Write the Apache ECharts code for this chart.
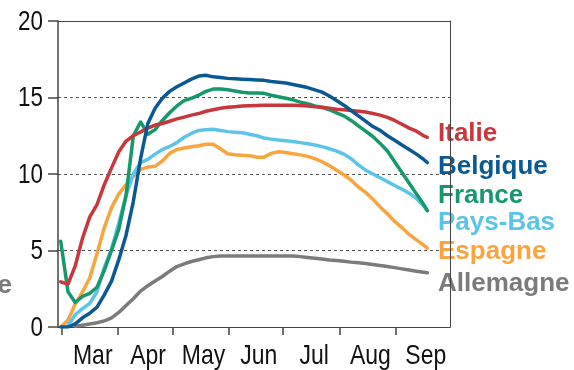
<!DOCTYPE html>
<html>
<head>
<meta charset="utf-8">
<script src="https://cdn.jsdelivr.net/npm/echarts@6/dist/echarts.min.js"></script>
<style>
html,body{margin:0;padding:0;background:#fff;}
#chart{width:574px;height:370px;}
</style>
</head>
<body>
<div id="chart"></div>
<script>
const sampleDates = ['02-29','03-04','03-08','03-12','03-16','03-20','03-24','03-28','04-01','04-05',
  '04-09','04-13','04-17','04-21','04-25','04-29','05-03','05-07','05-11','05-15',
  '05-19','05-23','05-27','05-31','06-04','06-08','06-12','06-16','06-20','06-24',
  '06-28','07-02','07-06','07-10','07-14','07-18','07-22','07-26','07-30','08-03',
  '08-07','08-11','08-15','08-19','08-23','08-27','08-31','09-04','09-08','09-12',
  '09-16','09-18'];

const italie = [2.95,2.8,4.0,5.8,7.2,8.0,9.3,10.4,11.45,12.15,
  12.5,12.75,13.0,13.2,13.3,13.45,13.6,13.72,13.85,13.95,
  14.1,14.2,14.3,14.36,14.4,14.44,14.46,14.48,14.5,14.5,
  14.5,14.5,14.5,14.48,14.45,14.4,14.36,14.3,14.23,14.2,
  14.15,14.1,14.05,13.95,13.85,13.7,13.5,13.25,13.0,12.8,
  12.5,12.4];

const belgique = [0,0,0.2,0.6,0.9,1.3,2.1,3.0,4.4,6.0,
  8.2,11.0,13.3,14.3,14.95,15.4,15.7,15.95,16.2,16.4,
  16.45,16.35,16.3,16.25,16.22,16.2,16.18,16.15,16.12,16.05,
  16.0,15.95,15.85,15.75,15.65,15.5,15.35,15.1,14.8,14.5,
  14.15,13.8,13.45,13.1,12.85,12.5,12.2,11.9,11.6,11.3,
  10.95,10.75];

const france = [5.6,2.3,1.6,2.0,2.2,2.6,3.7,5.0,6.4,8.6,
  12.5,13.4,12.6,12.9,13.5,14.0,14.45,14.8,14.95,15.15,
  15.4,15.55,15.55,15.5,15.42,15.35,15.3,15.3,15.27,15.15,
  15.05,14.95,14.85,14.7,14.6,14.45,14.35,14.2,14.0,13.8,
  13.5,13.15,12.8,12.45,12.0,11.5,10.8,10.1,9.4,8.7,
  8.0,7.6];

const paysBas = [null,0.1,0.8,1.2,1.55,2.3,3.9,5.1,6.8,8.6,
  10.0,10.75,10.95,11.3,11.6,11.8,12.05,12.4,12.65,12.85,
  12.9,12.92,12.85,12.77,12.73,12.7,12.6,12.5,12.35,12.28,
  12.22,12.18,12.12,12.05,11.98,11.9,11.79,11.65,11.5,11.3,
  11.0,10.6,10.25,10.0,9.75,9.5,9.25,9.0,8.75,8.4,
  7.9,7.6];

const espagne = [0,0.45,1.5,2.3,3.2,4.8,6.5,7.8,8.7,9.3,
  9.85,10.3,10.45,10.5,10.85,11.35,11.6,11.7,11.78,11.85,
  11.95,11.95,11.65,11.32,11.26,11.22,11.2,11.1,11.1,11.35,
  11.45,11.4,11.33,11.25,11.15,11.0,10.8,10.55,10.25,9.95,
  9.6,9.15,8.8,8.35,7.85,7.4,6.9,6.5,6.05,5.7,
  5.35,5.15];

const allemagne = [null,null,0.05,0.12,0.2,0.28,0.4,0.6,0.95,1.4,
  1.85,2.35,2.7,3.0,3.3,3.65,3.95,4.12,4.28,4.4,
  4.52,4.6,4.64,4.64,4.64,4.64,4.64,4.64,4.64,4.64,
  4.64,4.64,4.64,4.6,4.55,4.5,4.44,4.38,4.34,4.3,
  4.24,4.2,4.15,4.08,4.02,3.95,3.88,3.8,3.72,3.65,
  3.58,3.55];

const yTicks = [0, 5, 10, 15, 20];
const monthLabels = ['Mar', 'Apr', 'May', 'Jun', 'Jul', 'Aug', 'Sep'];
const monthStarts = ['2020-03-01','2020-04-01','2020-05-01','2020-06-01','2020-07-01','2020-08-01','2020-09-01','2020-10-01'];

const seriesDefs = [
  {name: 'Allemagne', values: allemagne, color: '#7b7b7b', labelY: 284},
  {name: 'Espagne', values: espagne, color: '#f8a53f', labelY: 252},
  {name: 'Pays-Bas', values: paysBas, color: '#5bc4e8', labelY: 223},
  {name: 'France', values: france, color: '#17986a', labelY: 196},
  {name: 'Italie', values: italie, color: '#c8373c', labelY: 134},
  {name: 'Belgique', values: belgique, color: '#0b5994', labelY: 167}
];

const DAY = 86400000;
const origin = Date.UTC(2020, 2, 1);
function dayNum(iso) { return (Date.parse(iso + 'T00:00:00Z') - origin) / DAY; }

const tickDays = monthStarts.slice(0, 7).map(dayNum);
const xMin = dayNum('2020-02-28');
const xMax = dayNum('2020-10-01');

function toData(values) {
  const out = [];
  sampleDates.forEach((d, k) => {
    if (values[k] !== null) out.push([dayNum('2020-' + d) + 0.5, values[k]]);
  });
  return out;
}

const axisColor = '#444';
const tickFont = "'Liberation Sans', Arial, sans-serif";

const chart = echarts.init(document.getElementById('chart'), null, {renderer: 'canvas'});
chart.setOption({
  animation: false,
  backgroundColor: '#fff',
  grid: {left: 58, right: 124, top: 21, bottom: 43, containLabel: false},
  xAxis: [{
    type: 'value',
    min: xMin, max: xMax,
    axisLine: {show: true, onZero: false, lineStyle: {color: axisColor, width: 1}},
    axisTick: {show: true, length: 8, customValues: tickDays, lineStyle: {color: axisColor, width: 1.5}},
    axisLabel: {show: false},
    splitLine: {show: false}
  }, {
    type: 'value',
    min: xMin, max: xMax,
    position: 'top',
    axisLine: {show: true, onZero: false, lineStyle: {color: axisColor, width: 1}},
    axisTick: {show: false},
    axisLabel: {show: false},
    splitLine: {show: false}
  }],
  yAxis: [{
    type: 'value',
    min: 0, max: 20, interval: 5,
    axisLine: {show: true, onZero: false, lineStyle: {color: axisColor, width: 1.5}},
    axisTick: {show: true, length: 10, lineStyle: {color: axisColor, width: 1.5}},
    axisLabel: {show: false},
    splitLine: {show: true, lineStyle: {color: '#555', width: 1, type: [3, 3]}}
  }, {
    type: 'value',
    min: 0, max: 20, interval: 5,
    position: 'right',
    axisLine: {show: true, onZero: false, lineStyle: {color: axisColor, width: 1}},
    axisTick: {show: false},
    axisLabel: {show: false},
    splitLine: {show: false}
  }],
  series: seriesDefs.map(s => ({
    type: 'line',
    name: s.name,
    data: toData(s.values),
    showSymbol: false,
    symbol: 'none',
    smooth: false,
    lineStyle: {color: s.color, width: 3.5, cap: 'round', join: 'round'},
    itemStyle: {color: s.color},
    z: 3
  }))
});

// Tick labels (narrow, Arial-Narrow-like) placed through the axes' own scales
const graphics = [];
const leftPx = chart.convertToPixel({xAxisIndex: 0}, xMin);
const zeroPx = chart.convertToPixel({yAxisIndex: 0}, 0);
yTicks.forEach(v => {
  graphics.push({
    type: 'text', x: leftPx - 15, y: chart.convertToPixel({yAxisIndex: 0}, v) + 1, scaleX: 0.8,
    style: {text: String(v), fill: '#111', fontSize: 28, fontFamily: tickFont, align: 'right', verticalAlign: 'middle'}
  });
});
monthLabels.forEach((m, k) => {
  const mid = (dayNum(monthStarts[k]) + dayNum(monthStarts[k + 1])) / 2;
  graphics.push({
    type: 'text', x: chart.convertToPixel({xAxisIndex: 0}, mid) + 3, y: zeroPx + 29, scaleX: 0.82,
    style: {text: m, fill: '#111', fontSize: 28, fontFamily: tickFont, align: 'center', verticalAlign: 'middle'}
  });
});
// Series name labels at the right
seriesDefs.forEach(s => {
  graphics.push({
    type: 'text', x: 438, y: s.labelY,
    style: {text: s.name, fill: s.color, fontSize: 26, fontWeight: 'bold', fontFamily: tickFont, align: 'left', verticalAlign: 'middle'}
  });
});
// Clipped tail of a label at the far left edge
graphics.push({
  type: 'text', x: 12, y: 286,
  style: {text: 'e', fill: '#7b7b7b', fontSize: 26, fontWeight: 'bold', fontFamily: tickFont, align: 'right', verticalAlign: 'middle'}
});
chart.setOption({graphic: graphics});
</script>
</body>
</html>
